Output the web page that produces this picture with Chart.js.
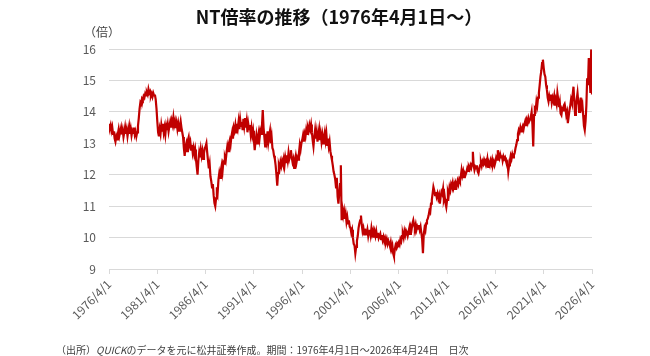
<!DOCTYPE html>
<html>
<head>
<meta charset="utf-8">
<script src="https://cdn.jsdelivr.net/npm/chart.js@4.4.1/dist/chart.umd.min.js"></script>
<style>
  html, body { margin: 0; padding: 0; background: #fff; }
  #wrap { position: relative; width: 650px; height: 356px; overflow: hidden; font-family: "Noto Sans CJK JP", "Noto Sans", sans-serif; }
  #c { position: absolute; left: 0; top: 0; }
  .t { position: absolute; white-space: nowrap; }
  #title { left: 0; width: 678px; top: 4px; text-align: center; font-size: 18px; font-weight: bold; color: #111; line-height: 24px; }
  #unit { left: 84px; top: 23px; font-size: 12px; color: #404040; line-height: 18px; }
  #note { left: 56px; top: 342px; font-size: 10px; color: #404040; line-height: 16px; }
</style>
</head>
<body>
<div id="wrap">
  <canvas id="c" width="650" height="356"></canvas>
  <div class="t" id="title">NT倍率の推移（1976年4月1日～）</div>
  <div class="t" id="unit">（倍）</div>
  <div class="t" id="note">（出所）<i>QUICK</i>のデータを元に松井証券作成。期間：1976年4月1日～2026年4月24日　日次</div>
</div>
<script>
// Monthly readings of the NT ratio, starting 1976/4 (one value per month)
const startYear = 1976;
const startMonth = 4;
const ntRatio = [
  13.62, 13.48, 13.58, 13.40, 13.52, 13.30, 13.38, 13.15, 13.05, 13.22, 13.12, 13.30, // 1976
  13.45, 13.25, 13.38, 13.50, 13.28, 13.42, 13.20, 13.35, 13.52, 13.30, 13.44, 13.22, // 1977
  13.40, 13.55, 13.30, 13.46, 13.25, 13.40, 13.33, 13.50, 13.28, 13.38, 13.22, 13.35, // 1978
  13.55, 13.80, 14.10, 14.30, 14.25, 14.42, 14.38, 14.50, 14.45, 14.58, 14.52, 14.62, // 1979
  14.55, 14.72, 14.60, 14.65, 14.50, 14.58, 14.48, 14.60, 14.52, 14.55, 14.40, 14.10, // 1980
  13.70, 13.35, 13.22, 13.45, 13.30, 13.58, 13.40, 13.62, 13.35, 13.50, 13.28, 13.55, // 1981
  13.42, 13.60, 13.38, 13.55, 13.68, 13.50, 13.72, 13.60, 13.82, 13.58, 13.70, 13.48, // 1982
  13.65, 13.45, 13.62, 13.40, 13.55, 13.70, 13.50, 13.35, 13.20, 12.85, 12.60, 12.90, // 1983
  13.00, 12.75, 13.10, 13.20, 12.95, 13.05, 12.80, 12.95, 12.70, 12.85, 12.65, 12.80, // 1984
  12.50, 12.25, 12.00, 12.45, 12.70, 12.55, 12.80, 12.60, 12.75, 12.50, 12.68, 12.85, // 1985
  12.90, 13.00, 12.70, 12.45, 12.20, 12.35, 11.95, 11.80, 11.60, 11.70, 11.35, 11.10, // 1986
  11.00, 11.25, 11.60, 11.45, 11.85, 12.05, 11.90, 12.15, 12.30, 12.10, 12.40, 12.35, // 1987
  12.55, 12.45, 12.70, 12.90, 12.75, 13.00, 13.10, 12.95, 13.20, 13.35, 13.15, 13.50, // 1988
  13.40, 13.58, 13.35, 13.62, 13.48, 13.70, 13.45, 13.75, 13.55, 13.68, 13.42, 13.78, // 1989
  13.55, 13.80, 13.50, 13.70, 13.35, 13.62, 13.45, 13.58, 13.30, 13.50, 13.25, 13.40, // 1990
  13.10, 12.78, 13.05, 13.25, 13.00, 13.20, 13.35, 13.15, 13.40, 13.30, 13.55, 14.06, // 1991
  13.50, 13.20, 12.90, 13.30, 13.10, 13.38, 13.05, 13.25, 13.40, 13.00, 13.20, 12.85, // 1992
  12.78, 12.60, 12.50, 12.30, 12.00, 11.65, 12.05, 12.30, 12.20, 12.40, 12.28, 12.45, // 1993
  12.35, 12.50, 12.30, 12.55, 12.40, 12.62, 12.45, 12.70, 12.50, 12.60, 12.78, 12.55, // 1994
  12.40, 12.50, 12.22, 12.45, 12.60, 12.40, 12.55, 12.48, 12.70, 12.95, 12.80, 13.00, // 1995
  13.10, 13.25, 13.05, 13.30, 13.20, 13.42, 13.30, 13.50, 13.40, 13.58, 13.45, 13.60, // 1996
  13.35, 13.10, 12.90, 13.20, 13.42, 13.15, 13.35, 13.05, 13.28, 13.45, 13.10, 13.30, // 1997
  13.05, 13.25, 13.00, 13.20, 13.35, 13.10, 13.30, 12.95, 13.15, 12.90, 13.05, 12.75, // 1998
  12.60, 12.46, 12.30, 12.10, 12.00, 11.85, 11.60, 11.90, 11.30, 11.08, 11.40, 11.70, // 1999
  12.30, 10.55, 10.90, 10.70, 10.85, 10.60, 10.75, 10.50, 10.65, 10.45, 10.55, 10.35, // 2000
  10.30, 10.15, 10.25, 10.00,  9.80,  9.75,  9.50,  9.70,  9.90, 10.05, 10.30, 10.45, // 2001
  10.55, 10.70, 10.40, 10.20, 10.30, 10.10, 10.28, 10.15, 10.12, 10.25, 10.05, 10.20, // 2002
  10.25, 10.08, 10.30, 10.12, 10.22, 10.00, 10.18, 10.05, 10.20, 10.02, 10.15,  9.98, // 2003
  10.05, 10.12,  9.95, 10.08,  9.92, 10.02,  9.88,  9.98,  9.85,  9.95,  9.80,  9.90, // 2004
   9.82,  9.72,  9.85,  9.65,  9.75,  9.50,  9.40,  9.62,  9.75,  9.68,  9.82,  9.78, // 2005
   9.85,  9.78,  9.95,  9.88, 10.05, 10.12, 10.00, 10.20, 10.08, 10.22, 10.15, 10.05, // 2006
  10.18, 10.30, 10.12, 10.35, 10.28, 10.45, 10.55, 10.40, 10.30, 10.42, 10.25, 10.35, // 2007
  10.28, 10.40, 10.25, 10.35, 10.15,  9.95,  9.50, 10.10, 10.30, 10.22, 10.45, 10.55, // 2008
  10.60, 10.70, 10.85, 10.80, 11.08, 11.20, 11.40, 11.61, 11.50, 11.35, 11.45, 11.30, // 2009
  11.40, 11.25, 11.35, 11.08, 11.30, 11.45, 11.38, 11.55, 11.20, 11.30, 11.10, 10.97, // 2010
  11.20, 11.45, 11.35, 11.60, 11.50, 11.70, 11.62, 11.75, 11.58, 11.68, 11.55, 11.72, // 2011
  11.65, 11.80, 11.70, 11.85, 11.78, 11.95, 12.15, 11.98, 12.10, 11.92, 12.05, 12.00, // 2012
  12.08, 12.20, 12.12, 12.25, 12.18, 12.30, 12.22, 12.35, 12.73, 12.30, 12.15, 12.25, // 2013
  12.20, 12.30, 12.10, 12.04, 12.18, 12.30, 12.40, 12.28, 12.42, 12.35, 12.48, 12.40, // 2014
  12.45, 12.35, 12.50, 12.25, 12.38, 12.30, 12.45, 12.35, 12.48, 12.32, 12.42, 12.30, // 2015
  12.40, 12.55, 12.48, 12.78, 12.60, 12.52, 12.65, 12.55, 12.62, 12.45, 12.58, 12.50, // 2016
  12.55, 12.45, 12.35, 12.40, 12.10, 12.30, 12.45, 12.60, 12.50, 12.65, 12.55, 12.62, // 2017
  12.70, 12.85, 12.95, 13.10, 13.30, 13.42, 13.35, 13.50, 13.38, 13.48, 13.55, 13.45, // 2018
  13.60, 13.70, 13.55, 13.74, 13.65, 13.80, 13.70, 13.76, 13.85, 14.00, 13.60, 12.90, // 2019
  13.90, 14.10, 14.05, 14.33, 14.20, 14.45, 14.60, 14.85, 15.12, 15.30, 15.55, 15.66, // 2020
  15.40, 15.20, 15.12, 14.85, 14.70, 14.45, 14.33, 14.50, 14.38, 14.55, 14.30, 14.45, // 2021
  14.35, 14.50, 14.20, 14.38, 14.25, 14.60, 14.40, 14.15, 14.30, 13.95, 13.90, 14.10, // 2022
  14.05, 14.20, 14.25, 14.10, 13.90, 14.00, 13.64, 13.85, 14.05, 14.20, 14.40, 14.30, // 2023
  14.55, 14.80, 14.35, 13.90, 14.20, 14.40, 14.60, 14.30, 14.00, 14.20, 14.45, 14.15, // 2024
  14.25, 13.90, 13.55, 13.42, 13.70, 14.20, 15.07, 14.85, 15.71, 15.20, 14.60, 15.98, // 2025
  14.55                                                                              // 2026/4
];
const tickYears = [1976, 1981, 1986, 1991, 1996, 2001, 2006, 2011, 2016, 2021, 2026];
const yMin = 9, yMax = 16;

const points = ntRatio.map((v, i) => ({ x: i / 12, y: v }));

new Chart(document.getElementById('c'), {
  type: 'line',
  data: {
    datasets: [{
      data: points,
      borderColor: '#C00000',
      borderWidth: 2.2,
      pointRadius: 0,
      tension: 0,
      fill: false
    }]
  },
  options: {
    responsive: false,
    animation: false,
    devicePixelRatio: 1,
    layout: { padding: { left: 0, right: 58, top: 49, bottom: 0 } },
    plugins: { legend: { display: false }, tooltip: { enabled: false }, title: { display: false } },
    scales: {
      x: {
        type: 'linear',
        min: 0,
        max: tickYears[tickYears.length - 1] - startYear,
        afterFit: s => { s.height = 87; },
        afterBuildTicks: s => { s.ticks = tickYears.map(y => ({ value: y - startYear })); },
        grid: { drawOnChartArea: false, drawTicks: true, tickLength: 5, color: '#d9d9d9' },
        border: { display: true, color: '#d9d9d9', width: 1 },
        ticks: {
          autoSkip: false,
          minRotation: 45,
          maxRotation: 45,
          padding: 3,
          color: '#595959',
          font: { family: '"Noto Sans CJK JP", "Noto Sans", sans-serif', size: 12 },
          callback: v => `${startYear + v}/${startMonth}/1`
        }
      },
      y: {
        min: yMin,
        max: yMax,
        afterFit: s => { s.width = 109; },
        grid: { color: '#d9d9d9', lineWidth: 1, drawTicks: false },
        border: { display: false },
        ticks: {
          stepSize: 1,
          padding: 13,
          color: '#595959',
          font: { family: '"Noto Sans CJK JP", "Noto Sans", sans-serif', size: 12 }
        }
      }
    }
  }
});
</script>
</body>
</html>
